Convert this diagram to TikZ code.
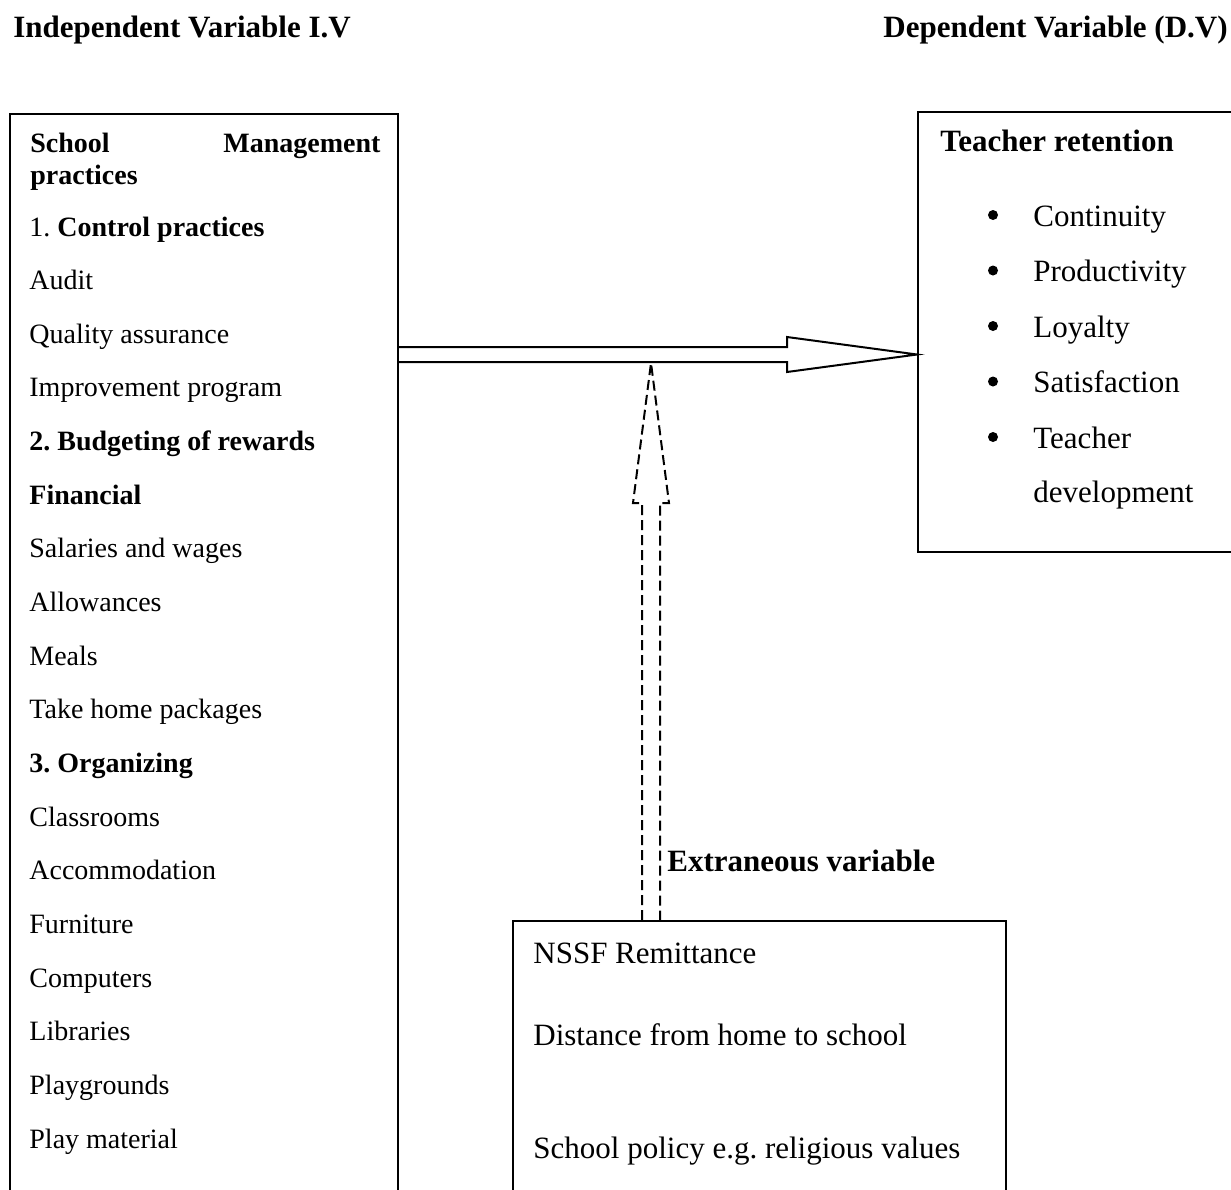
\documentclass[tikz,border=0pt]{standalone}
\usepackage{fontspec}
\setmainfont{Liberation Serif}
\frenchspacing
\usetikzlibrary{fit}

\begin{document}
\begin{tikzpicture}[x=0.5pt, y=-0.5pt,
    box/.style={draw, line width=1pt, inner sep=0pt},
    txt/.style={anchor=base west, inner sep=0pt, font=\fontsize{14}{17}\selectfont},
    boldtxt/.style={anchor=base west, inner sep=0pt, font=\bfseries\fontsize{14}{17}\selectfont},
    bigtxt/.style={anchor=base west, inner sep=0pt, font=\fontsize{15.5}{18}\selectfont},
    bigbold/.style={anchor=base west, inner sep=0pt, font=\bfseries\fontsize{15.5}{18}\selectfont},
    dot/.style={circle, fill, inner sep=0pt, minimum size=5pt},
    arrowline/.style={line width=1pt, line join=miter},
    dashline/.style={line width=1pt, dash pattern=on 5pt off 2.5pt}]

  \useasboundingbox (0,0) rectangle (1231,1189);

  % Headings
  \node[bigbold] (ivhead) at (13,37) {Independent Variable I.V};
  \node[bigbold, anchor=base east] (dvhead) at (1228,37) {Dependent Variable (D.V)};

  % Boxes
  \node[box, fit={(10,114) (398,1215)}] (ivbox) {};
  \node[box, fit={(918,112) (1233,552)}] (dvbox) {};
  \node[box, fit={(513,921) (1006,1215)}] (exbox) {};

  % Independent variable
  \node[boldtxt] (ivtitle) at (30,152) {\makebox[175pt]{School\hfill Management}};
  \node[boldtxt] (ivtitle2) at (30,184) {practices};
  \foreach \lbl [count=\i from 0] in {%
      {1. \textbf{Control practices}}, Audit, Quality assurance, Improvement program,
      \textbf{2. Budgeting of rewards}, \textbf{Financial}, Salaries and wages,
      Allowances, Meals, Take home packages, \textbf{3. Organizing}, Classrooms,
      Accommodation, Furniture, Computers, Libraries, Playgrounds, Play material}
    \node[txt] (iv\i) at (29,236+53.65*\i) {\lbl};

  % Dependent variable
  \node[bigbold] (dvtitle) at (940,151) {Teacher retention};
  \foreach \lbl [count=\i from 0] in {Continuity, Productivity, Loyalty, Satisfaction, Teacher}
  {
    \node[dot] (dot\i) at (993,215+55.5*\i) {};
    \node[bigtxt] (dv\i) at (1033,226+55.5*\i) {\lbl};
  }
  \node[bigtxt] (dv5) at (1033,502) {development};

  % Extraneous variable
  \node[bigbold] (exlabel) at (667,871) {Extraneous variable};
  \node[bigtxt] (ex0) at (533,963) {NSSF Remittance};
  \node[bigtxt] (ex1) at (533,1045) {Distance from home to school};
  \node[bigtxt] (ex2) at (533,1158) {School policy e.g. religious values};

  % Main arrow
  \coordinate (hs1) at (787,347);
  \coordinate (hs2) at (787,362);
  \coordinate (hh1) at (787,337);
  \coordinate (hh2) at (787,372);
  \coordinate (htip) at (918,354.5);
  \draw[arrowline] (ivbox.east |- hs1) -- (hs1) -- (hh1) -- (dvbox.west |- htip)
    -- (hh2) -- (hs2) -- (ivbox.east |- hs2);

  % Dashed arrow
  \coordinate (vs1) at (642,503);
  \coordinate (vs2) at (660,503);
  \coordinate (vh1) at (633,503);
  \coordinate (vh2) at (669,503);
  \coordinate (vtip) at (651,363);
  \draw[dashline] (exbox.north -| vs1) -- (vs1) -- (vh1) -- (vtip) -- (vh2)
    -- (vs2) -- (exbox.north -| vs2);

\end{tikzpicture}
\end{document}
